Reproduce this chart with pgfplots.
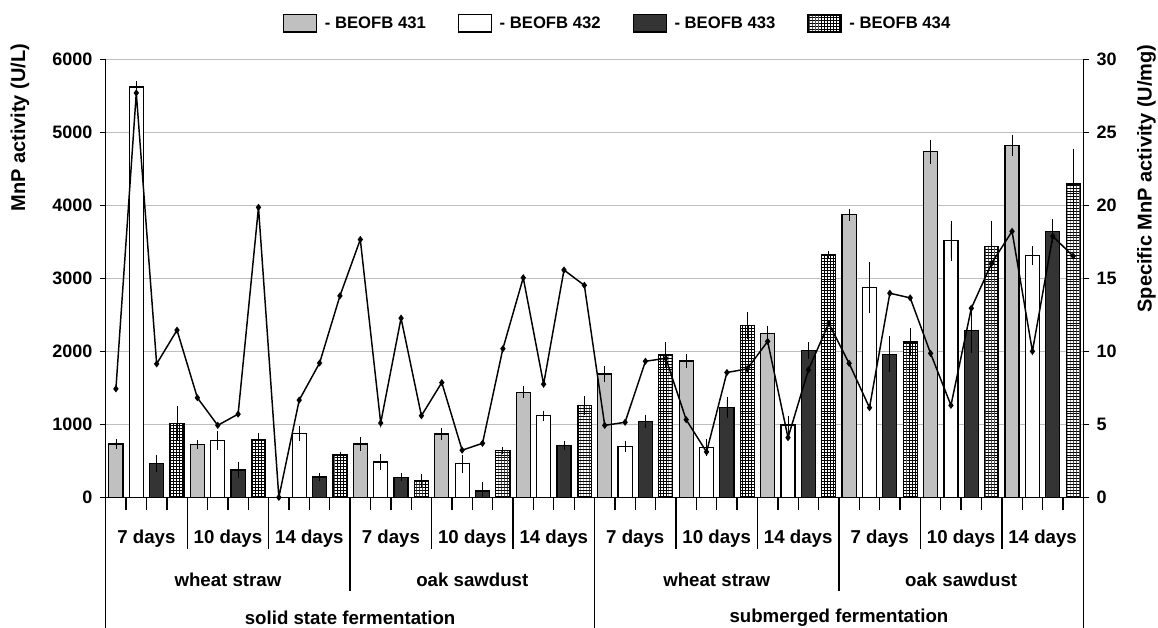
\documentclass[border=0pt]{standalone}
\usepackage{fontspec}
\setmainfont{Liberation Sans}
\usepackage{pgfplots}
\pgfplotsset{compat=1.18}
\usetikzlibrary{patterns}
\definecolor{c431}{RGB}{192,192,192}
\definecolor{c433}{RGB}{52,52,52}
\definecolor{gridc}{RGB}{190,190,190}
\pgfdeclarepatternformonly{finegrid}{\pgfqpoint{-0.1pt}{-0.1pt}}{\pgfqpoint{2.3pt}{2.3pt}}{\pgfqpoint{2.2pt}{2.2pt}}{%
  \pgfsetlinewidth{0.55pt}%
  \pgfpathmoveto{\pgfqpoint{0pt}{0pt}}\pgfpathlineto{\pgfqpoint{2.2pt}{0pt}}%
  \pgfpathmoveto{\pgfqpoint{0pt}{0pt}}\pgfpathlineto{\pgfqpoint{0pt}{2.2pt}}%
  \pgfusepath{stroke}}
\pgfplotsset{
  errstyle/.style={error bars/.cd, y dir=both, y explicit,
    error bar style={line width=0.6pt, black},
    error mark options={line width=0.6pt, mark size=2.5pt, black}},
}
\begin{document}
\begin{tikzpicture}
\useasboundingbox (-79.3pt,-98pt) rectangle (789.2pt,373pt);
\begin{axis}[
  scale only axis, width=733.2pt, height=328.5pt,
  xmin=-0.5, xmax=47.5, ymin=0, ymax=6000,
  axis x line*=bottom, axis y line*=left,
  axis line style={-, line width=1pt, black},
  xtick=\empty,
  ytick={0,1000,...,6000},
  ymajorgrids, major grid style={gridc, line width=0.8pt},
  tick align=outside, major tick length=4.5pt,
  tick style={black, line width=1pt},
  /pgf/number format/assume math mode=true,
  /pgf/number format/1000 sep={},
  yticklabel style={font=\bfseries\fontsize{13.5}{16}\selectfont, xshift=-2pt},
  ylabel={MnP activity (U/L)},
  every axis y label/.style={at={(axis description cs:-0.0877,0.844)}, rotate=90, anchor=center, font=\bfseries\fontsize{15}{18}\selectfont},
  legend style={at={(axis description cs:0.524,1.082)}, anchor=center, draw=none, fill=none,
    font=\bfseries\fontsize{12.5}{15}\selectfont,
    /tikz/every even column/.append style={column sep=22pt}},
  legend columns=4,
  legend image code/.code={\draw[#1] (0pt,-6.4pt) rectangle (24.75pt,6.4pt); \path (28.5pt,0pt);},
]
\addplot[ybar, bar width=0.69, bar shift=0pt, fill=c431, draw=black, line width=0.9pt, errstyle]
coordinates {(0,730)+-(0,25) (4,726)+-(0,15) (12,730)+-(0,45) (16,867)+-(0,40) (20,1438)+-(0,35)
 (24,1690)+-(0,60) (28,1867)+-(0,45) (32,2242)+-(0,65) (36,3870)+-(0,35) (40,4734)+-(0,120) (44,4822)+-(0,100)};
\addplot[ybar, bar width=0.69, bar shift=0pt, fill=white, draw=black, line width=0.9pt, errstyle]
coordinates {(1,5620)+-(0,40) (5,776)+-(0,85) (9,876)+-(0,60) (13,484)+-(0,60) (17,461)+-(0,80) (21,1118)+-(0,25)
 (25,698)+-(0,25) (29,680)+-(0,70) (33,990)+-(0,80) (37,2877)+-(0,300) (41,3515)+-(0,230) (45,3315)+-(0,80)};
\addplot[ybar, bar width=0.69, bar shift=0pt, fill=c433, draw=black, line width=0.9pt, errstyle]
coordinates {(2,466)+-(0,75) (6,374)+-(0,70) (10,278)+-(0,12) (14,274)+-(0,10) (18,86)+-(0,75) (22,712)+-(0,15)
 (26,1041)+-(0,45) (30,1233)+-(0,100) (34,2009)+-(0,70) (38,1959)+-(0,200) (42,2283)+-(0,260) (46,3644)+-(0,120)};
\addplot[ybar, bar width=0.69, bar shift=0pt, fill=white, postaction={pattern=finegrid}, draw=black, line width=0.9pt, errstyle]
coordinates {(3,1013)+-(0,190) (7,794)+-(0,45) (11,579)+-(0,0) (15,223)+-(0,45) (19,643)+-(0,0) (23,1255)+-(0,85)
 (27,1954)+-(0,130) (31,2351)+-(0,140) (35,3330)+-(0,0) (39,2128)+-(0,140) (43,3433)+-(0,310) (47,4292)+-(0,430)};
\legend{- BEOFB 431, - BEOFB 432, - BEOFB 433, - BEOFB 434}
\end{axis}
\begin{axis}[
  scale only axis, width=733.2pt, height=328.5pt,
  xmin=-0.5, xmax=47.5, ymin=0, ymax=30,
  axis x line=none, axis y line*=right,
  axis line style={-, line width=1pt, black},
  ytick={0,5,...,30},
  tick align=outside, major tick length=4.5pt,
  tick style={black, line width=1pt},
  /pgf/number format/assume math mode=true,
  yticklabel style={font=\bfseries\fontsize{13.5}{16}\selectfont, xshift=2pt},
  ylabel={Specific MnP activity (U/mg)},
  every axis y label/.style={at={(axis description cs:1.0647,0.728)}, rotate=90, anchor=center, font=\bfseries\fontsize{15}{18}\selectfont},
]
\addplot[black, line width=1.1pt, mark=diamond*, mark size=1.8pt] coordinates {
(0,7.43) (1,27.7) (2,9.14) (3,11.45) (4,6.82) (5,4.93) (6,5.70) (7,19.86)
(8,0) (9,6.66) (10,9.2) (11,13.8) (12,17.66) (13,5.09) (14,12.27) (15,5.59)
(16,7.86) (17,3.23) (18,3.70) (19,10.18) (20,15.04) (21,7.75) (22,15.57) (23,14.52)
(24,4.93) (25,5.14) (26,9.32) (27,9.52) (28,5.32) (29,3.11) (30,8.55) (31,8.80)
(32,10.68) (33,4.09) (34,8.73) (35,11.91) (36,9.18) (37,6.14) (38,13.98) (39,13.66)
(40,9.86) (41,6.30) (42,12.95) (43,16.04) (44,18.22) (45,10.0) (46,17.88) (47,16.52)};
\end{axis}
% category separators and labels
\foreach \k in {1,...,47} {\draw[line width=1pt] (\k*15.275pt,0pt) -- ++(0pt,-9.75pt);}
\foreach \k in {4,8,16,20,28,32,40,44} {\draw[line width=1pt] (\k*15.275pt,0pt) -- ++(0pt,-39pt);}
\foreach \k in {12,36} {\draw[line width=1pt] (\k*15.275pt,0pt) -- ++(0pt,-70pt);}
\foreach \k in {0,24,48} {\draw[line width=1pt] (\k*15.275pt,0pt) -- ++(0pt,-100pt);}
\foreach \g/\t in {0/7 days,1/10 days,2/14 days,3/7 days,4/10 days,5/14 days,6/7 days,7/10 days,8/14 days,9/7 days,10/10 days,11/14 days}
  {\node[font=\bfseries\fontsize{14}{16}\selectfont] at ({(4*\g+2)*15.275pt},-30.75pt) {\t};}
\foreach \g/\t in {0/wheat straw,1/oak sawdust,2/wheat straw,3/oak sawdust}
  {\node[font=\bfseries\fontsize{14}{16}\selectfont] at ({(12*\g+6)*15.275pt},-61.5pt) {\t};}
\node[font=\bfseries\fontsize{14}{16}\selectfont] at ({12*15.275pt},-90pt) {solid state fermentation};
\node[font=\bfseries\fontsize{14}{16}\selectfont] at ({36*15.275pt},-90pt) {submerged fermentation};
\end{tikzpicture}
\end{document}
